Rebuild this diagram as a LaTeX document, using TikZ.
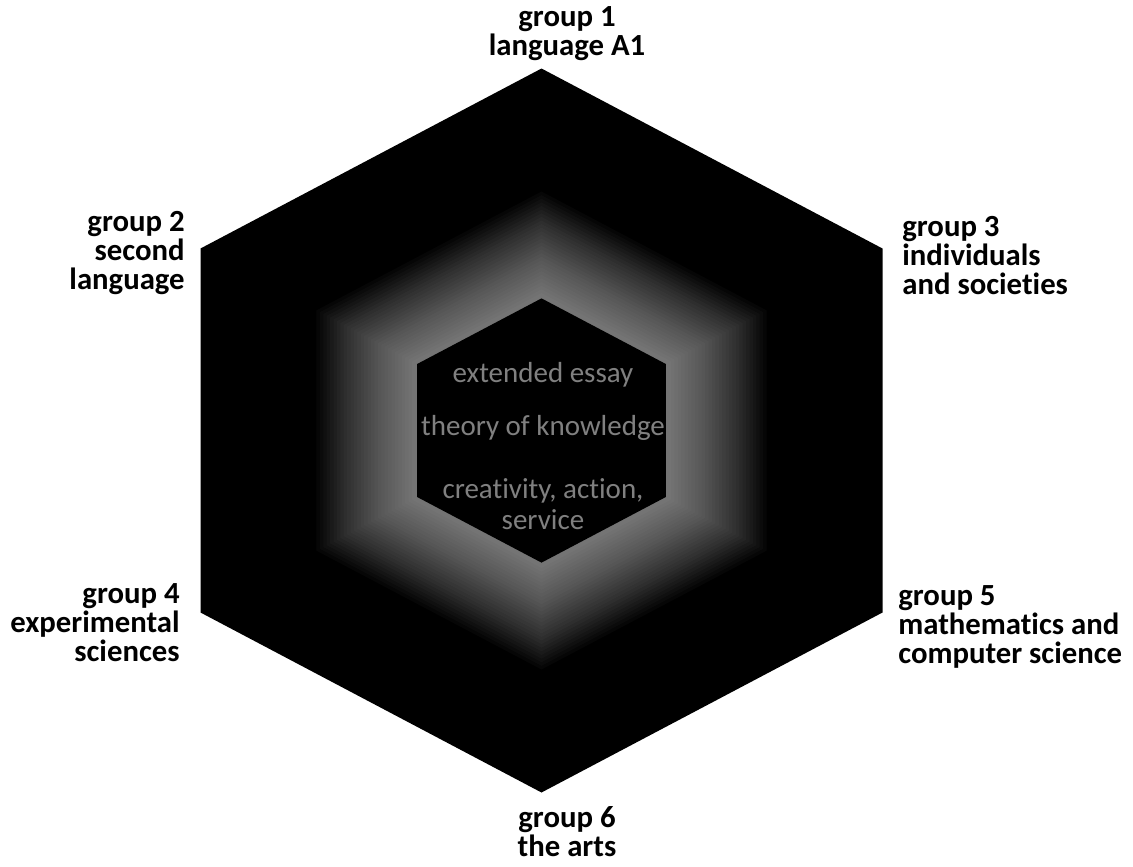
\documentclass[tikz,border=0pt]{standalone}
\usepackage{fontspec}
\setmainfont{Carlito}[Ligatures=NoCommon]
\usetikzlibrary{positioning}

% outline of one hexagon, centred on the origin (units are pixels)
\newcommand{\hexpath}{(0,-362) -- (341,-182) -- (341,182) -- (0,362) -- (-341,182) -- (-341,-182) -- cycle}

\tikzset{
  grouplabel/.style={font=\bfseries\fontsize{17.5}{16.5}\selectfont, inner sep=0pt},
  corelabel/.style={font=\fontsize{16.5}{18}\selectfont, text=gray, inner sep=0pt, align=center},
}

\begin{document}
\begin{tikzpicture}[x=0.02cm, y=-0.02cm]
  \useasboundingbox (0,0) rectangle (1133,866);

  % the hexagon with its glow
  \begin{scope}[shift={(541.5,430.5)}]
    \fill[black] \hexpath;
    \begin{scope}
      \clip \hexpath;
      \foreach \s in {0.66,0.65,...,0.37}
        \fill[white, opacity=0.024, scale=\s] \hexpath;
    \end{scope}
    \fill[black, scale=0.365] \hexpath;
  \end{scope}

  % core in the middle
  \node[corelabel] (ee)  at (543,375) {extended essay};
  \node[corelabel] (tok) at (543,428) {theory of knowledge};
  \node[corelabel, anchor=north] (cas) at (543,478) {creativity, action,\\ service};

  % the six groups
  \node[grouplabel, align=center, anchor=north] (g1) at (567,6) {group 1\\ language A1};
  \node[grouplabel, align=right, anchor=north east] (g2) at (185,211) {group 2\\ second\\ language};
  \node[grouplabel, align=left, anchor=north west] (g3) at (902,216) {group 3\\ individuals\\ and societies};
  \node[grouplabel, align=right, anchor=north east] (g4) at (180,583) {group 4\\ experimental\\ sciences};
  \node[grouplabel, align=left, anchor=north west] (g5) at (898,585) {group 5\\ mathematics and\\ computer science};
  \node[grouplabel, align=center, anchor=north] (g6) at (567,806) {group 6\\ the arts};
\end{tikzpicture}
\end{document}
